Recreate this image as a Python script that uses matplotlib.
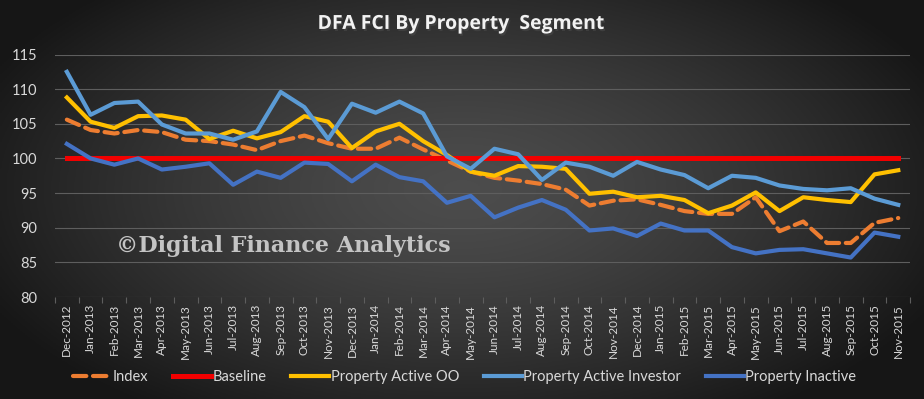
import numpy as np
import matplotlib
matplotlib.use("Agg")
import matplotlib.pyplot as plt
import matplotlib.patheffects as pe
from matplotlib.ticker import FixedLocator

plt.rcParams["font.family"] = ["Lato", "DejaVu Sans"]

months = ["Dec-2012", "Jan-2013", "Feb-2013", "Mar-2013", "Apr-2013", "May-2013",
          "Jun-2013", "Jul-2013", "Aug-2013", "Sep-2013", "Oct-2013", "Nov-2013",
          "Dec-2013", "Jan-2014", "Feb-2014", "Mar-2014", "Apr-2014", "May-2014",
          "Jun-2014", "Jul-2014", "Aug-2014", "Sep-2014", "Oct-2014", "Nov-2014",
          "Dec-2014", "Jan-2015", "Feb-2015", "Mar-2015", "Apr-2015", "May-2015",
          "Jun-2015", "Jul-2015", "Aug-2015", "Sep-2015", "Oct-2015", "Nov-2015"]

index_vals = [105.6, 104.1, 103.6, 104.1, 103.8, 102.7, 102.5, 102.0, 101.2, 102.5,
              103.3, 102.2, 101.4, 101.4, 103.0, 101.3, 99.7, 98.1, 97.2, 96.8,
              96.3, 95.5, 93.2, 93.9, 94.1, 93.3, 92.4, 92.0, 92.0, 94.4,
              89.5, 90.9, 87.8, 87.8, 90.7, 91.4]
baseline = [100.0] * len(months)
active_oo = [108.8, 105.3, 104.4, 106.1, 106.2, 105.6, 102.8, 104.0, 102.9, 103.8,
             106.1, 105.3, 101.5, 103.9, 105.0, 102.5, 100.5, 98.1, 97.5, 98.9,
             98.8, 98.5, 94.9, 95.2, 94.4, 94.6, 94.0, 92.1, 93.2, 95.1,
             92.4, 94.4, 94.0, 93.7, 97.7, 98.3]
active_inv = [112.5, 106.3, 108.0, 108.2, 104.9, 103.6, 103.6, 102.7, 103.9, 109.6,
              107.4, 102.8, 107.9, 106.6, 108.2, 106.5, 100.3, 98.5, 101.4, 100.6,
              96.9, 99.4, 98.8, 97.5, 99.5, 98.4, 97.6, 95.7, 97.5, 97.2,
              96.1, 95.6, 95.4, 95.7, 94.2, 93.3]
inactive = [102.1, 100.0, 99.1, 100.0, 98.4, 98.8, 99.3, 96.2, 98.1, 97.2,
            99.4, 99.2, 96.7, 99.1, 97.3, 96.7, 93.6, 94.6, 91.5, 92.9,
            94.0, 92.6, 89.6, 89.9, 88.8, 90.6, 89.6, 89.6, 87.2, 86.3,
            86.8, 86.9, 86.3, 85.7, 89.3, 88.7]

yticks = [80, 85, 90, 95, 100, 105, 110, 115]

TEXT = "#d9d9d9"
GRID = "#5e5e5e"

fig = plt.figure(figsize=(9.24, 3.99), dpi=100)

# background: dark elliptical gradient, lighter in the middle
bg = fig.add_axes([0, 0, 1, 1], zorder=-10)
gx, gy = np.meshgrid(np.linspace(-1, 1, 400), np.linspace(-1, 1, 200))
r = np.sqrt((gx / 1.05) ** 2 + ((gy + 0.05) / 1.25) ** 2)
shade = np.clip(0.30 - 0.19 * r ** 1.4, 0.09, 0.30)
bg.imshow(np.dstack([shade] * 3), aspect="auto", extent=[0, 1, 0, 1])
bg.set_axis_off()

ax = fig.add_axes([0.0595, 0.2556, 0.9255, 0.6078])
ax.patch.set_alpha(0)
x = np.arange(len(months))

ax.plot(x, index_vals, color="#ED7D31", lw=3.0, dashes=(3.2, 1.6), label="Index",
        solid_capstyle="round", dash_capstyle="round")
ax.plot(x, baseline, color="#F20000", lw=3.6, label="Baseline")
ax.plot(x, active_oo, color="#FFC000", lw=3.0, label="Property Active OO")
ax.plot(x, active_inv, color="#5B9BD5", lw=3.0, label="Property Active Investor")
ax.plot(x, inactive, color="#4472C4", lw=3.0, label="Property Inactive")

ax.set_xlim(-0.5, len(months) - 0.5)
ax.set_ylim(80, 115)
ax.set_yticks(yticks)
ax.set_yticklabels([str(v) for v in yticks])
ax.set_xticks(x)
ax.set_xticklabels(months, rotation=90)
ax.xaxis.set_minor_locator(FixedLocator(np.arange(-0.5, len(months), 1.0)))

ax.grid(axis="y", color=GRID, lw=0.8)
ax.set_axisbelow(True)
for s in ax.spines.values():
    s.set_visible(False)
ax.tick_params(axis="y", length=0, pad=13, labelsize=10.5, labelcolor=TEXT)
ax.tick_params(axis="x", which="major", length=0, pad=5, labelsize=8.5, labelcolor=TEXT)
ax.tick_params(axis="x", which="minor", length=4, color=GRID, width=0.8)

fig.text(0.5, 0.94, "DFA FCI By Property  Segment", ha="center", va="center",
         fontsize=14, fontweight="bold", color="#f2f2f2", family="Open Sans",
         path_effects=[pe.withSimplePatchShadow(offset=(1, -1.5), alpha=0.6)])

ax.text(0.071, 0.21, "\u00a9Digital Finance Analytics", transform=ax.transAxes,
        ha="left", va="center", fontsize=16, fontweight="bold",
        color="#c4c4c4", family="DejaVu Serif")

leg = fig.legend(loc="center", bbox_to_anchor=(0.503, 0.055), ncol=5,
                 frameon=False, fontsize=10.5, labelcolor=TEXT, handlelength=2.6,
                 handletextpad=0.1, columnspacing=1.7)

fig.savefig("out.png", dpi=100)
